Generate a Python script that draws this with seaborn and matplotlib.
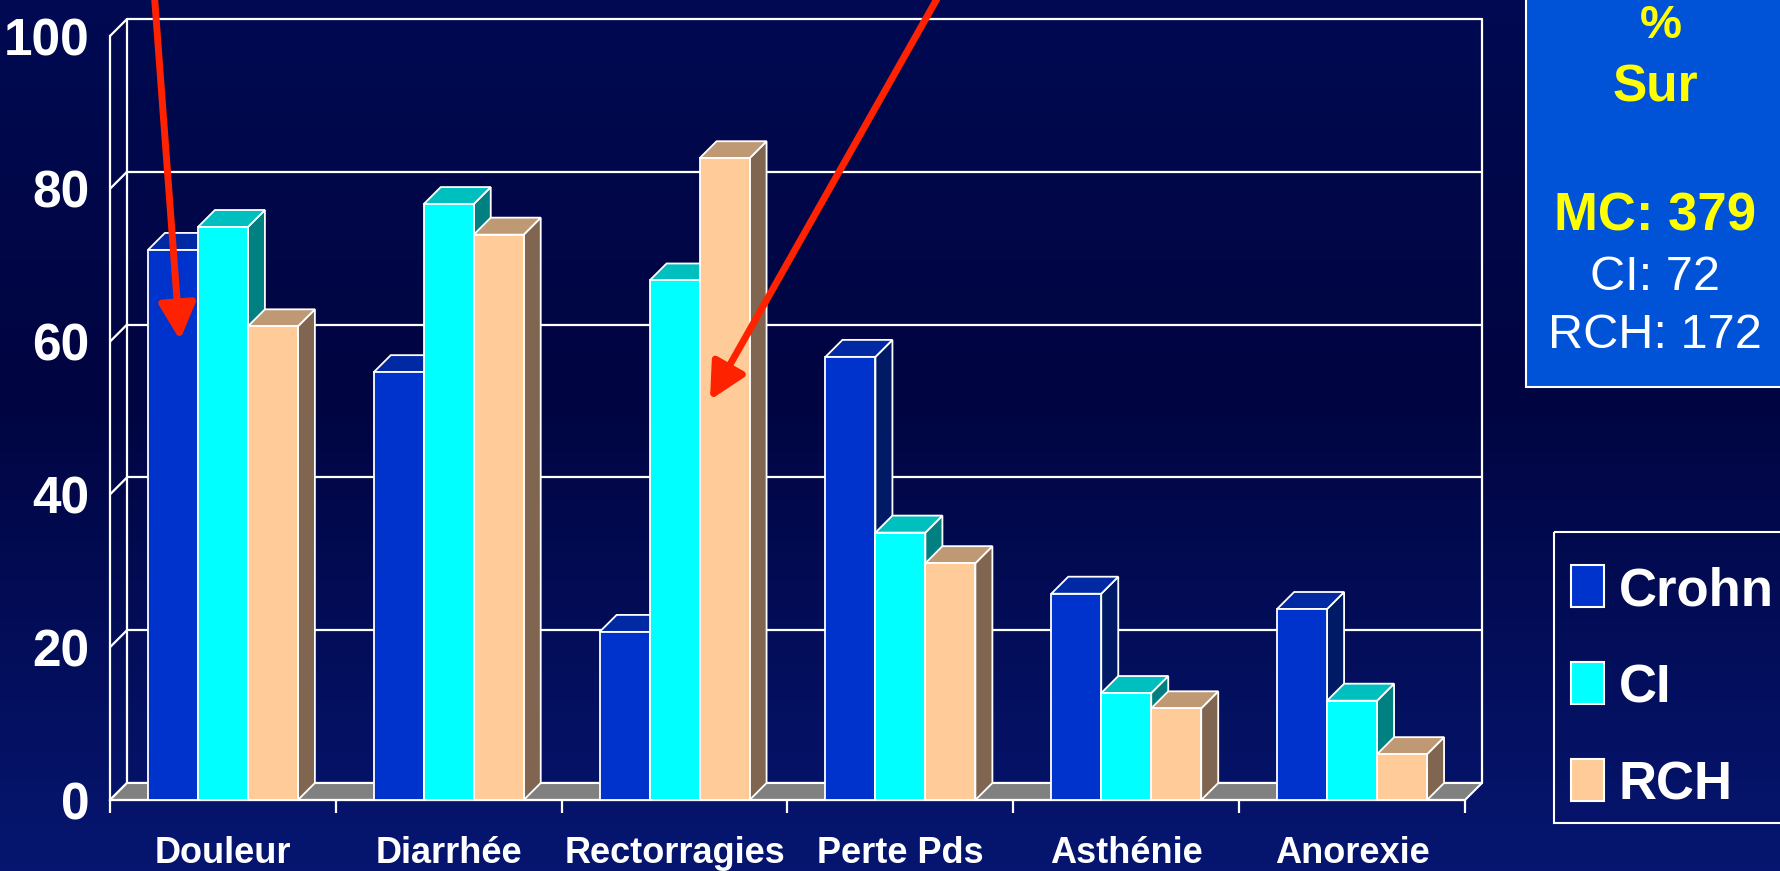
import numpy as np
import pandas as pd
import matplotlib
matplotlib.use("Agg")
import matplotlib.pyplot as plt
from matplotlib.patches import Polygon, Rectangle
import seaborn as sns

# ---- data -------------------------------------------------------------
categories = ["Douleur", "Diarrhée", "Rectorragies", "Perte Pds", "Asthénie", "Anorexie"]
groups = ["Crohn", "CI", "RCH"]
crohn = [72, 56, 22, 58, 27, 25]
ci = [75, 78, 68, 35, 14, 13]
rch = [62, 74, 84, 31, 12, 6]
y_ticks = [0, 20, 40, 60, 80, 100]
cohort_title = ["%", "Sur"]
cohort_main = "MC: 379"
cohort_other = ["CI: 72", "RCH: 172"]

# ---- style ------------------------------------------------------------
front_colors = ["#0033CC", "#00FFFF", "#FFCC99"]
top_colors = ["#0029A3", "#00BFBF", "#BF9973"]
side_colors = ["#001A66", "#008080", "#806650"]
FLOOR = "#808080"
YELLOW = "#FFFF00"
RED = "#FF2200"

sns.set_theme(style="white")
FAM = ["Liberation Sans", "DejaVu Sans"]
plt.rcParams["font.family"] = FAM

W, H = 1781, 871
fig = plt.figure(figsize=(W / 100, H / 100), dpi=100)

# background gradient
bg = fig.add_axes([0, 0, 1, 1], zorder=0)
t = np.linspace(0, 1, 400)
stops_t = [0.0, 0.45, 1.0]
stops_c = np.array([[0, 10, 82], [0, 4, 64], [6, 22, 112]]) / 255.0
grad = np.stack([np.interp(t, stops_t, stops_c[:, k]) for k in range(3)], axis=1)
grad = np.repeat(grad[:, None, :], 4, axis=1)
bg.imshow(grad, aspect="auto", extent=[0, 1, 0, 1])
bg.axis("off")

# main plot area (front plane of the 3-D box)
left, right, top, bottom = 110, 1465, 36, 800
ax = fig.add_axes([left / W, 1 - bottom / H, (right - left) / W, (bottom - top) / H], zorder=1)
ax.patch.set_alpha(0)

df = pd.DataFrame(
    [(c, g, v) for g, vals in zip(groups, [crohn, ci, rch]) for c, v in zip(categories, vals)],
    columns=["Symptôme", "Groupe", "Pourcentage"],
)
sns.barplot(
    data=df, x="Symptôme", y="Pourcentage", hue="Groupe",
    order=categories, hue_order=groups, palette=front_colors,
    saturation=1, width=0.664, edgecolor="white", linewidth=1.3,
    errorbar=None, legend=False, ax=ax,
)

ax.set_xlim(-0.5, len(categories) - 0.5)
ax.set_ylim(0, 100)

# depth of the 3-D effect, in data units (17 px both ways)
px_x = (right - left) / len(categories)
px_y = (bottom - top) / 100
DX, DY = 17 / px_x, 17 / px_y
x_lo, x_hi = -0.5, len(categories) - 0.5

# floor
ax.add_patch(Polygon([(x_lo, 0), (x_hi, 0), (x_hi + DX, DY), (x_lo + DX, DY)],
                     closed=True, facecolor=FLOOR, edgecolor="white", lw=1.5,
                     zorder=1.5, clip_on=False))
# back wall grid and frame, side wall diagonals
for v in y_ticks:
    ax.plot([x_lo + DX, x_hi + DX], [v + DY, v + DY], color="white", lw=1.6, zorder=1, clip_on=False)
    ax.plot([x_lo, x_lo + DX], [v, v + DY], color="white", lw=1.6, zorder=1, clip_on=False)
ax.plot([x_lo + DX, x_lo + DX], [DY, 100 + DY], color="white", lw=1.6, zorder=1, clip_on=False)
ax.plot([x_hi + DX, x_hi + DX], [DY, 100 + DY], color="white", lw=1.6, zorder=1, clip_on=False)

# 3-D faces of each column
for i, cont in enumerate(ax.containers):
    base = 3 + 3 * i
    for bar in cont:
        x0 = bar.get_x()
        x1 = x0 + bar.get_width()
        h = bar.get_height()
        side = Polygon([(x1, 0), (x1 + DX, DY), (x1 + DX, h + DY), (x1, h)], closed=True,
                       facecolor=side_colors[i], edgecolor="white", lw=1.3, zorder=base, clip_on=False)
        topf = Polygon([(x0, h), (x1, h), (x1 + DX, h + DY), (x0 + DX, h + DY)], closed=True,
                       facecolor=top_colors[i], edgecolor="white", lw=1.3, zorder=base + 1, clip_on=False)
        ax.add_patch(side)
        ax.add_patch(topf)
        bar.set_zorder(base + 2)
        bar.set_clip_on(False)

# axes
for s in ["top", "right"]:
    ax.spines[s].set_visible(False)
for s in ["left", "bottom"]:
    ax.spines[s].set_color("white")
    ax.spines[s].set_linewidth(1.6)
    ax.spines[s].set_zorder(2)
ax.set_xlabel("")
ax.set_ylabel("")
ax.grid(False)

ax.set_yticks(y_ticks)
ax.set_yticklabels([str(v) for v in y_ticks])
ax.tick_params(axis="y", colors="white", length=6, width=1.6, pad=9, labelsize=37)
for lbl in ax.get_yticklabels():
    lbl.set_fontweight("bold")

ax.set_xticks(range(len(categories)))
ax.set_xticklabels(categories)
ax.set_xticks(np.arange(x_lo, x_hi + 0.01, 1), minor=True)
ax.tick_params(axis="x", which="major", length=0, pad=26, labelsize=26, colors="white")
ax.tick_params(axis="x", which="minor", length=9, width=1.6, color="white", bottom=True)
for lbl in ax.get_xticklabels():
    lbl.set_fontweight("bold")

# overlay in pixel coordinates: info box, legend, arrows
ov = fig.add_axes([0, 0, 1, 1], zorder=3)
ov.set_xlim(0, W)
ov.set_ylim(H, 0)
ov.axis("off")
ov.patch.set_alpha(0)

ov.add_patch(Rectangle((1526, -20), 300, 407, facecolor="#0052D6", edgecolor="white", lw=1.5))
cx = 1655
ov.text(cx + 6, 38, cohort_title[0], color=YELLOW, fontsize=34, fontweight="bold",
        ha="center", va="baseline")
ov.text(cx, 102, cohort_title[1], color=YELLOW, fontsize=37, fontweight="bold",
        ha="center", va="baseline")
ov.text(cx, 230, cohort_main, color=YELLOW, fontsize=38, fontweight="bold",
        ha="center", va="baseline")
for txt, yb in zip(cohort_other, [290, 348]):
    ov.text(cx, yb, txt, color="white", fontsize=35, ha="center", va="baseline")

ov.add_patch(Rectangle((1554, 532), 300, 291, facecolor="none", edgecolor="white", lw=1.5))
for k, (g, col) in enumerate(zip(groups, front_colors)):
    yc = 586 + 97 * k
    ov.add_patch(Rectangle((1571, yc - 21), 33, 42, facecolor=col, edgecolor="white", lw=1.5))
    ov.text(1619, yc, g, color="white", fontsize=38, fontweight="bold",
            ha="left", va="center_baseline")

arrow_kw = dict(arrowstyle="-|>,head_length=0.55,head_width=0.28", color=RED, lw=5,
                mutation_scale=40, shrinkA=0, shrinkB=0)
ov.annotate("", xy=(180, 340), xytext=(154, -10), arrowprops=arrow_kw, annotation_clip=False)
ov.annotate("", xy=(710, 400), xytext=(942, -10), arrowprops=arrow_kw, annotation_clip=False)

fig.savefig("out.png", dpi=100)
